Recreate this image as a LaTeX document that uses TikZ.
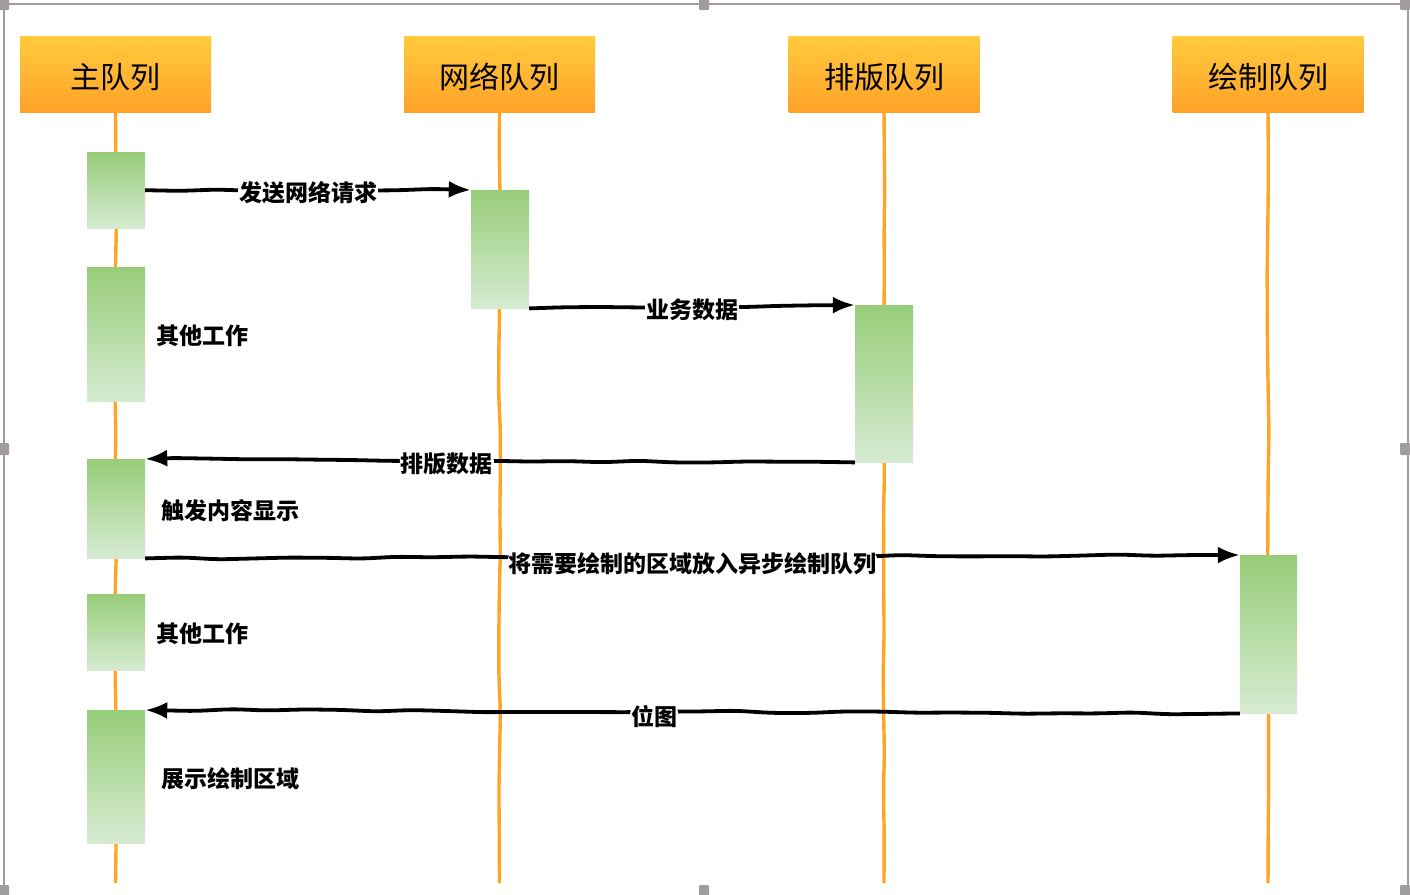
\documentclass[tikz,border=0pt]{standalone}
\usepackage{fontspec}
\setmainfont{Noto Sans CJK SC}
\usetikzlibrary{arrows.meta,decorations.pathmorphing}

\definecolor{hdtop}{HTML}{FFCB3E}
\definecolor{hdbot}{HTML}{FFA227}
\definecolor{life}{HTML}{FFA526}
\definecolor{acttop}{HTML}{97CD79}
\definecolor{actbot}{HTML}{D6EBD2}
\definecolor{frame}{HTML}{A39C9C}

\tikzset{
  header/.style={rectangle,top color=hdtop,bottom color=hdbot,draw=none,
    minimum width=191pt,minimum height=76pt,text height=32pt,text depth=3pt,
    font=\fontsize{30}{32}\selectfont},
  lifeline/.style={draw=life,line width=3.4pt,decorate,
    decoration={random steps,segment length=40pt,amplitude=1pt},rounded corners=10pt},
  act/.style={rectangle,top color=acttop,bottom color=actbot,draw=none,
    minimum width=58pt,anchor=north},
  msg/.style={draw=black,line width=3.8pt,-{Latex[length=22pt,width=17pt]},
    decorate,decoration={random steps,segment length=36pt,amplitude=1.2pt},rounded corners=9pt},
  msglabel/.style={fill=white,inner sep=1pt,font=\fontsize{23}{25}\bfseries},
  note/.style={anchor=west,font=\fontsize{23}{25}\bfseries}
}

\begin{document}
\begin{tikzpicture}[x=1pt,y=-1pt]
\useasboundingbox (0,0) rectangle (1410,894);
\fill[white] (0,0) rectangle (1410,894);

% frame and handles
\draw[frame,line width=2pt] (3.5,894) -- (3.5,3.5) -- (1407.5,3.5) -- (1407.5,894);
\foreach \hx/\hy in {4/4,704/4,1405/4,4/449,1405/449,4/891,704/891,1405/891}
  \fill[frame,rounded corners=1pt] (\hx-5,\hy-6) rectangle (\hx+5,\hy+6);

% queues
\node[header] (main) at (115.5,74) {主队列};
\node[header] (net) at (499.5,74) {网络队列};
\node[header] (lay) at (884,74) {排版队列};
\node[header] (draw) at (1268,74) {绘制队列};

\coordinate (mainend) at (115.5,883);
\coordinate (netend) at (499.5,883);
\coordinate (layend) at (884,883);
\coordinate (drawend) at (1268,883);

\path[lifeline] (main.south) -- (mainend);
\path[lifeline] (net.south) -- (netend);
\path[lifeline] (lay.south) -- (layend);
\path[lifeline] (draw.south) -- (drawend);

% activations
\node[act,minimum height=76pt] (m1) at (116,152) {};
\node[act,minimum height=134pt] (m2) at (116,267) {};
\node[act,minimum height=99pt] (m3) at (116,459) {};
\node[act,minimum height=76pt] (m4) at (116,594) {};
\node[act,minimum height=133pt] (m5) at (116,710) {};
\node[act,minimum height=118pt] (n1) at (500,190) {};
\node[act,minimum height=157pt] (l1) at (884,305) {};
\node[act,minimum height=158pt,minimum width=57pt] (d1) at (1268.5,555) {};

% messages
\path[msg] (m1.east) -- node[msglabel,yshift=-3pt] {发送网络请求} (n1.north west);
\path[msg] (n1.south east) -- node[msglabel,yshift=-3pt] {业务数据} (l1.north west);
\path[msg] (l1.south west) -- node[msglabel,pos=0.575,yshift=-3pt] {排版数据} (m3.north east);
\path[msg] (m3.south east) -- node[msglabel,yshift=-7pt] {将需要绘制的区域放入异步绘制队列} (d1.north west);
\path[msg] (d1.south west) -- node[msglabel,pos=0.535,yshift=-5pt] {位图} (m5.north east);

% notes
\node[note] (w1) at (153,336) {其他工作};
\node[note] (w2) at (158,511) {触发内容显示};
\node[note] (w3) at (153,634) {其他工作};
\node[note] (w4) at (158,779) {展示绘制区域};
\end{tikzpicture}
\end{document}
